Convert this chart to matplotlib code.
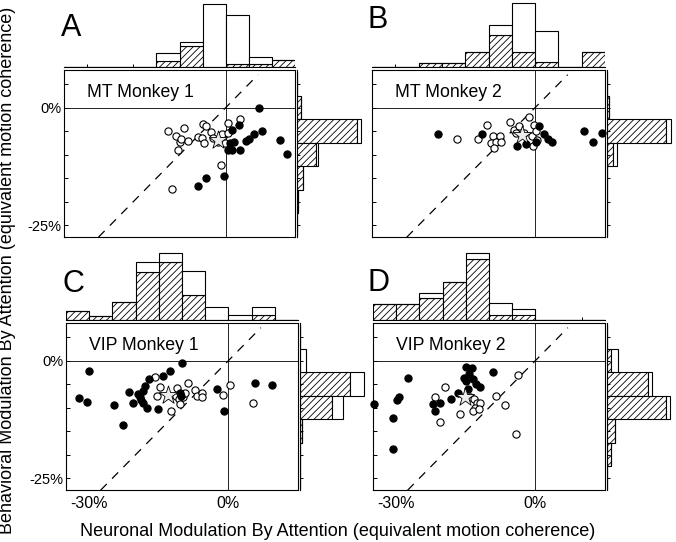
import matplotlib.pyplot as plt
import numpy as np

plt.rcParams['font.family'] = ['Liberation Sans', 'DejaVu Sans']
plt.rcParams['hatch.linewidth'] = 0.6
plt.rcParams['axes.linewidth'] = 0.8

# modulation values in % equivalent motion coherence
x_bin_left = [-35, -30, -25, -20, -15, -10, -5, 0, 5, 10]   # top histogram bins (5% wide)
y_bin_mid = [5, 0, -5, -10, -15, -20, -25]                 # side histogram bins (5% wide)

# A: MT monkey 1
mt1_open_x = [-12.5, -9.0, -10.8, -9.9, -9.7, -8.1, -10.3, -6.1, -5.2, -4.8, -4.9, -4.2,
              -3.1, -2.7, -0.9, 0.6, 3.0, 0.5, -0.2, -1.1, -11.7, -1.7]
mt1_open_y = [-4.9, -4.3, -6.1, -7.2, -6.7, -7.0, -9.0, -6.3, -6.5, -7.5, -3.5, -3.8,
              -5.1, -6.5, -5.6, -3.3, -2.4, -5.4, -7.5, -12.2, -17.4, -7.3]
mt1_fill_x = [7.3, 2.8, 1.4, 0.9, 1.9, 0.5, 1.4, 3.2, 4.3, 5.0, 6.1, 7.9, 11.7, 13.3, -0.4, -4.2, -6.0]
mt1_fill_y = [-0.1, -3.6, -4.7, -7.5, -7.4, -9.0, -9.0, -9.0, -7.0, -6.7, -5.6, -4.9, -6.8, -9.9,
              -14.5, -14.9, -16.6]
mt1_star = (-1.7, -6.8)
mt1_top_hatch = [0, 0, 0, 0, 3, 10.5, 0, 1.2, 1.2, 3.3]
mt1_top_total = [0, 0, 0, 0, 7, 12.5, 31.5, 26, 5, 3.3]
mt1_side_hatch = [0, 2, 30, 9.5, 3.3, 0.8, 0]
mt1_side_total = [0, 2, 32, 10.5, 3.3, 0.8, 0]

# B: MT monkey 2
mt2_open_x = [-16.8, -12.2, -10.4, -9.1, -7.5, -9.5, -8.4, -7.3, -8.9, -5.3, -4.6, -3.5, -4.0,
              -2.4, -1.4, -0.3, -0.6, 0.1, 0.4, -0.4]
mt2_open_y = [-6.7, -6.7, -3.6, -6.1, -6.1, -7.5, -7.4, -7.2, -8.6, -3.1, -4.7, -4.0, -5.4,
              -5.3, -1.9, -3.6, -6.1, -4.9, -6.8, -8.1]
mt2_fill_x = [-20.8, -11.3, -3.9, -1.9, 0.3, 0.9, 1.9, 2.7, 3.7, 10.6, 12.5, 14.3]
mt2_fill_y = [-5.6, -5.6, -8.1, -7.7, -7.2, -3.8, -5.6, -6.7, -7.3, -4.9, -7.3, -5.3]
mt2_star = (-2.8, -5.8)
mt2_top_hatch = [0, 0, 2, 2, 7.5, 16, 7.5, 2.2, 0, 7.5]
mt2_top_total = [0, 0, 2, 2, 7.5, 21, 31.7, 18, 0, 7.5]
mt2_side_hatch = [0, 1.2, 30, 3.3, 0, 0, 0]
mt2_side_total = [0, 1.2, 32.2, 5.3, 0, 0, 0]

# C: VIP monkey 1
vip1_open_x = [-15.8, -14.8, -15.4, -11.1, -11.4, -10.7, -10.4, -9.7, -9.3, -8.6, -7.1, -6.8,
               -5.7, -5.6, -12.4, -1.2, 0.3, 5.2]
vip1_open_y = [-3.4, -5.6, -7.5, -5.8, -7.5, -8.2, -9.3, -7.8, -6.8, -4.8, -6.2, -7.5,
               -6.8, -7.8, -10.7, -7.3, -5.1, -9.0]
vip1_fill_x = [-30.0, -32.2, -30.5, -24.6, -22.8, -21.5, -20.5, -19.4, -18.5, -17.9, -18.3, -17.6,
               -17.1, -14.1, -12.5, -10.0, -15.1, -10.4, -10.3, -2.4, -1.0, 5.7, 9.3, -19.0, -18.8]
vip1_fill_y = [-2.1, -8.0, -8.7, -9.4, -13.7, -6.7, -8.9, -7.1, -6.4, -5.3, -8.9, -10.0,
               -3.9, -3.2, -2.1, -0.4, -10.3, -6.8, -7.6, -6.0, -10.7, -4.8, -5.2, -7.8, -8.3]
vip1_star = (-13.1, -7.3)
vip1_top_hatch = [4.2, 2, 8.7, 24, 29, 12.5, 0, 0, 2.2, 0]
vip1_top_total = [4.2, 2, 8.7, 29, 33.5, 24.5, 6.3, 2.2, 6.3, 0]
vip1_side_hatch = [0, 0, 25, 16.2, 1.2, 0, 0]
vip1_side_total = [0, 3.3, 32.2, 21.7, 1.2, 0, 0]

# D: VIP monkey 2
vip2_open_x = [-19.4, -21.6, -20.5, -16.2, -14.0, -13.3, -12.6, -11.9, -13.0, -13.5, -12.2,
               -8.4, -6.5, -3.7, -4.1]
vip2_open_y = [-5.6, -7.8, -13.0, -11.4, -7.8, -8.2, -8.9, -9.1, -10.0, -10.7, -10.3,
               -7.5, -9.4, -3.0, -15.5]
vip2_fill_x = [-34.8, -27.4, -29.5, -29.9, -30.6, -30.7, -22.0, -20.5, -21.6, -18.1, -16.6,
               -14.9, -13.7, -15.3, -14.3, -13.5, -12.7, -12.0, -14.5, -14.9, -9.1]
vip2_fill_y = [-9.3, -3.6, -7.8, -8.4, -12.2, -18.7, -9.3, -8.9, -10.7, -8.2, -6.8,
               -1.4, -1.6, -3.6, -2.8, -3.9, -5.0, -5.7, -6.0, -4.3, -2.5]
vip2_star = (-15.1, -7.8)
vip2_top_hatch = [7.9, 7.9, 10.8, 19, 30.3, 2.4, 2.6, 0, 0, 0]
vip2_top_total = [7.9, 7.9, 13.5, 19, 33.5, 8.2, 5.3, 0, 0, 0]
vip2_side_hatch = [0, 2, 20.7, 30, 4, 2, 0]
vip2_side_total = [0, 5.8, 22.8, 32, 4, 2, 0]

panels = [
    dict(letter='A', title='MT Monkey 1', ox=mt1_open_x, oy=mt1_open_y, fx=mt1_fill_x, fy=mt1_fill_y,
         star=mt1_star, th=mt1_top_hatch, tt=mt1_top_total, sh=mt1_side_hatch, st=mt1_side_total),
    dict(letter='B', title='MT Monkey 2', ox=mt2_open_x, oy=mt2_open_y, fx=mt2_fill_x, fy=mt2_fill_y,
         star=mt2_star, th=mt2_top_hatch, tt=mt2_top_total, sh=mt2_side_hatch, st=mt2_side_total),
    dict(letter='C', title='VIP Monkey 1', ox=vip1_open_x, oy=vip1_open_y, fx=vip1_fill_x, fy=vip1_fill_y,
         star=vip1_star, th=vip1_top_hatch, tt=vip1_top_total, sh=vip1_side_hatch, st=vip1_side_total),
    dict(letter='D', title='VIP Monkey 2', ox=vip2_open_x, oy=vip2_open_y, fx=vip2_fill_x, fy=vip2_fill_y,
         star=vip2_star, th=vip2_top_hatch, tt=vip2_top_total, sh=vip2_side_hatch, st=vip2_side_total),
]

# layout in pixels: scatter box (left, top, right, bottom), letter position
W, H = 676, 542
boxes = [(64, 70, 295, 237), (372, 70, 605, 237), (66, 323, 298, 490), (373, 323, 605, 490)]
letter_pos = [(61, 36.5), (368, 28.5), (63, 292), (367, 291)]
ylabels_on = [True, False, True, False]
xlabels_on = [False, False, True, True]

fig = plt.figure(figsize=(W / 100, H / 100), dpi=100)


def rect(l, t, r, b):
    return [l / W, 1 - b / H, (r - l) / W, (b - t) / H]


HMAX = 34  # histogram axis length (units), 2 px per unit
XL = (-35, 15)
YL = (-27.5, 8)

for p, (l, t, r, b), (lx, ly), yon, xon in zip(panels, boxes, letter_pos, ylabels_on, xlabels_on):
    ax = fig.add_axes(rect(l, t, r, b))
    ax.set_xlim(*XL)
    ax.set_ylim(*YL)
    ax.axhline(0, color='black', lw=0.6, zorder=1)
    ax.axvline(0, color='black', lw=0.6, zorder=1)
    ax.plot([-30, 7], [-30, 7], color='black', lw=0.9, dashes=(7, 6), zorder=1)
    ax.scatter(p['ox'], p['oy'], s=27, facecolor='white', edgecolor='black', lw=0.8, zorder=3, clip_on=False)
    ax.scatter(p['fx'], p['fy'], s=27, facecolor='black', edgecolor='black', lw=0.8, zorder=3, clip_on=False)
    ax.scatter([p['star'][0]], [p['star'][1]], marker='*', s=190, facecolor='#ececec',
               edgecolor='black', lw=0.6, zorder=4)
    ax.text(0.1, 0.84, p['title'], transform=ax.transAxes, fontsize=12.7, va='baseline', ha='left')

    ax.set_yticks([-25, -20, -15, -10, -5, 0, 5])
    ax.set_yticklabels(['-25%', '', '', '', '', '0%', ''] if yon else [])
    ax.tick_params(axis='y', direction='in', length=3, width=0.7, labelsize=10.5, pad=2)
    ax.set_xticks([-30, -20, -10, 0, 10])
    ax.set_xticklabels(['-30%', '', '', '0%', ''] if xon else [])
    ax.tick_params(axis='x', direction='in', length=0, labelsize=11.5, pad=4)

    # top histogram
    ht = fig.add_axes(rect(l, t - 3.3 - 2 * HMAX, r, t - 3.3))
    th = np.array(p['th'])
    tt = np.array(p['tt'])
    ht.bar(x_bin_left, th, width=5, align='edge', facecolor='white', edgecolor='black',
           lw=0.8, hatch='/////')
    ht.bar(x_bin_left, tt - th, bottom=th, width=5, align='edge', facecolor='white',
           edgecolor='black', lw=0.8)
    ht.set_xlim(*XL)
    ht.set_ylim(0, HMAX)
    ht.patch.set_visible(False)
    for s in ['top', 'left', 'right']:
        ht.spines[s].set_visible(False)
    ht.set_yticks([])
    ht.set_xticks([-30, -20, -10, 0, 10])
    ht.set_xticklabels([])
    ht.tick_params(axis='x', direction='in', length=2.5, width=0.7)

    # side histogram
    hs = fig.add_axes(rect(r + 1.5, t, r + 1.5 + 2 * HMAX, b))
    sh = np.array(p['sh'])
    st = np.array(p['st'])
    hs.barh(y_bin_mid, sh, height=5, facecolor='white', edgecolor='black', lw=0.8, hatch='/////')
    hs.barh(y_bin_mid, st - sh, left=sh, height=5, facecolor='white', edgecolor='black', lw=0.8)
    hs.set_ylim(*YL)
    hs.set_xlim(0, HMAX)
    hs.patch.set_visible(False)
    for s in ['top', 'bottom', 'right']:
        hs.spines[s].set_visible(False)
    hs.set_xticks([])
    hs.set_yticks([-25, -20, -15, -10, -5, 0, 5])
    hs.set_yticklabels([])
    hs.tick_params(axis='y', direction='in', length=2.5, width=0.7)

    fig.text(lx / W, 1 - ly / H, p['letter'], fontsize=22, ha='left', va='baseline')

fig.text(337.5 / W, 1 - 535.5 / H, 'Neuronal Modulation By Attention (equivalent motion coherence)',
         fontsize=13, ha='center', va='baseline')
fig.text(7.5 / W, 1 - 270 / H, 'Behavioral Modulation By Attention (equivalent motion coherence)',
         fontsize=13, ha='center', va='center', rotation=90)

fig.savefig('out.png', dpi=100)
